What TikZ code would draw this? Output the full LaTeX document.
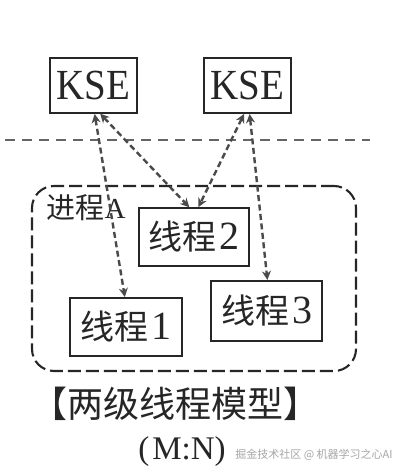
\documentclass[tikz,border=0pt]{standalone}
\usepackage{fontspec}
\setmainfont{Liberation Serif}
\newfontfamily\cjk{Noto Sans CJK SC}
\usetikzlibrary{arrows.meta}
\definecolor{ink}{HTML}{262626}
\definecolor{arr}{HTML}{4a4a4a}
\tikzset{
  box/.style={draw=ink, line width=1.9pt, inner sep=0pt, outer sep=0pt, text=ink},
  link/.style={draw=arr, line width=2.4pt, dash pattern=on 6pt off 3.5pt,
    {Stealth[length=9pt,width=9pt]}-{Stealth[length=9pt,width=9pt]}, shorten <=1pt, shorten >=1pt},
  txt/.style={inner sep=0pt, text=ink}
}
\newcommand{\thr}[1]{{\cjk 线程}\hspace{3pt}{\fontsize{40}{40}\selectfont #1}}
\begin{document}
\begin{tikzpicture}[x=1pt,y=-1pt]
\useasboundingbox (0,0) rectangle (403,473);
\fill[white] (0,0) rectangle (403,473);
% horizontal divider
\coordinate (dl) at (5,140);
\coordinate (dr) at (370,140);
\draw[arr!85, line width=1.6pt, dash pattern=on 10pt off 7pt] (dl) -- (dr);
% process box
\node[draw=ink, line width=2.1pt, dash pattern=on 13pt off 5pt, rounded corners=22pt,
      minimum width=324pt, minimum height=185pt, inner sep=0pt] (proc) at (194,278.5) {};
\node[txt, font=\fontsize{29}{29}\selectfont] (plabel) at (86,208) {{\cjk 进程}A};
% KSE boxes
\node[box, minimum width=87pt, minimum height=55pt, font=\fontsize{39}{39}\selectfont] (kse1) at (93.5,85.5) {\scalebox{1}[1.1]{KSE}};
\node[box, minimum width=87pt, minimum height=55pt, font=\fontsize{39}{39}\selectfont] (kse2) at (247.5,85.5) {\scalebox{1}[1.1]{KSE}};
% thread boxes
\node[box, fill=white, minimum width=110pt, minimum height=58pt, font=\fontsize{34}{34}\selectfont] (t2) at (194,237) {\thr{2}};
\node[box, fill=white, minimum width=111pt, minimum height=60pt, font=\fontsize{34}{34}\selectfont] (t3) at (266.5,311) {\thr{3}};
\node[box, fill=white, minimum width=112pt, minimum height=58pt, font=\fontsize{34}{34}\selectfont] (t1) at (126,327) {\thr{1}};
% links
\draw[link] ([xshift=1pt]kse1.south) -- ([xshift=-1pt]t1.north);
\draw[link] ([xshift=6pt]kse1.south) -- ([xshift=-4pt]t2.north);
\draw[link] ([xshift=-3pt]kse2.south) -- ([xshift=4pt]t2.north);
\draw[link] ([xshift=2pt]kse2.south) -- ([xshift=1pt]t3.north);
% captions
\node[txt, font=\fontsize{36}{36}\selectfont] (cap) at (175,404) {\cjk 【两级线程模型】};
\node[txt, font=\fontsize{33}{33}\selectfont] (mn) at (182,452) {({\hspace{3pt}}M:N)};
\node[inner sep=0pt, text=gray!70, font=\fontsize{11}{11}\selectfont] (wm) at (314,455) {\cjk 掘金技术社区 @ 机器学习之心AI};
\end{tikzpicture}
\end{document}
